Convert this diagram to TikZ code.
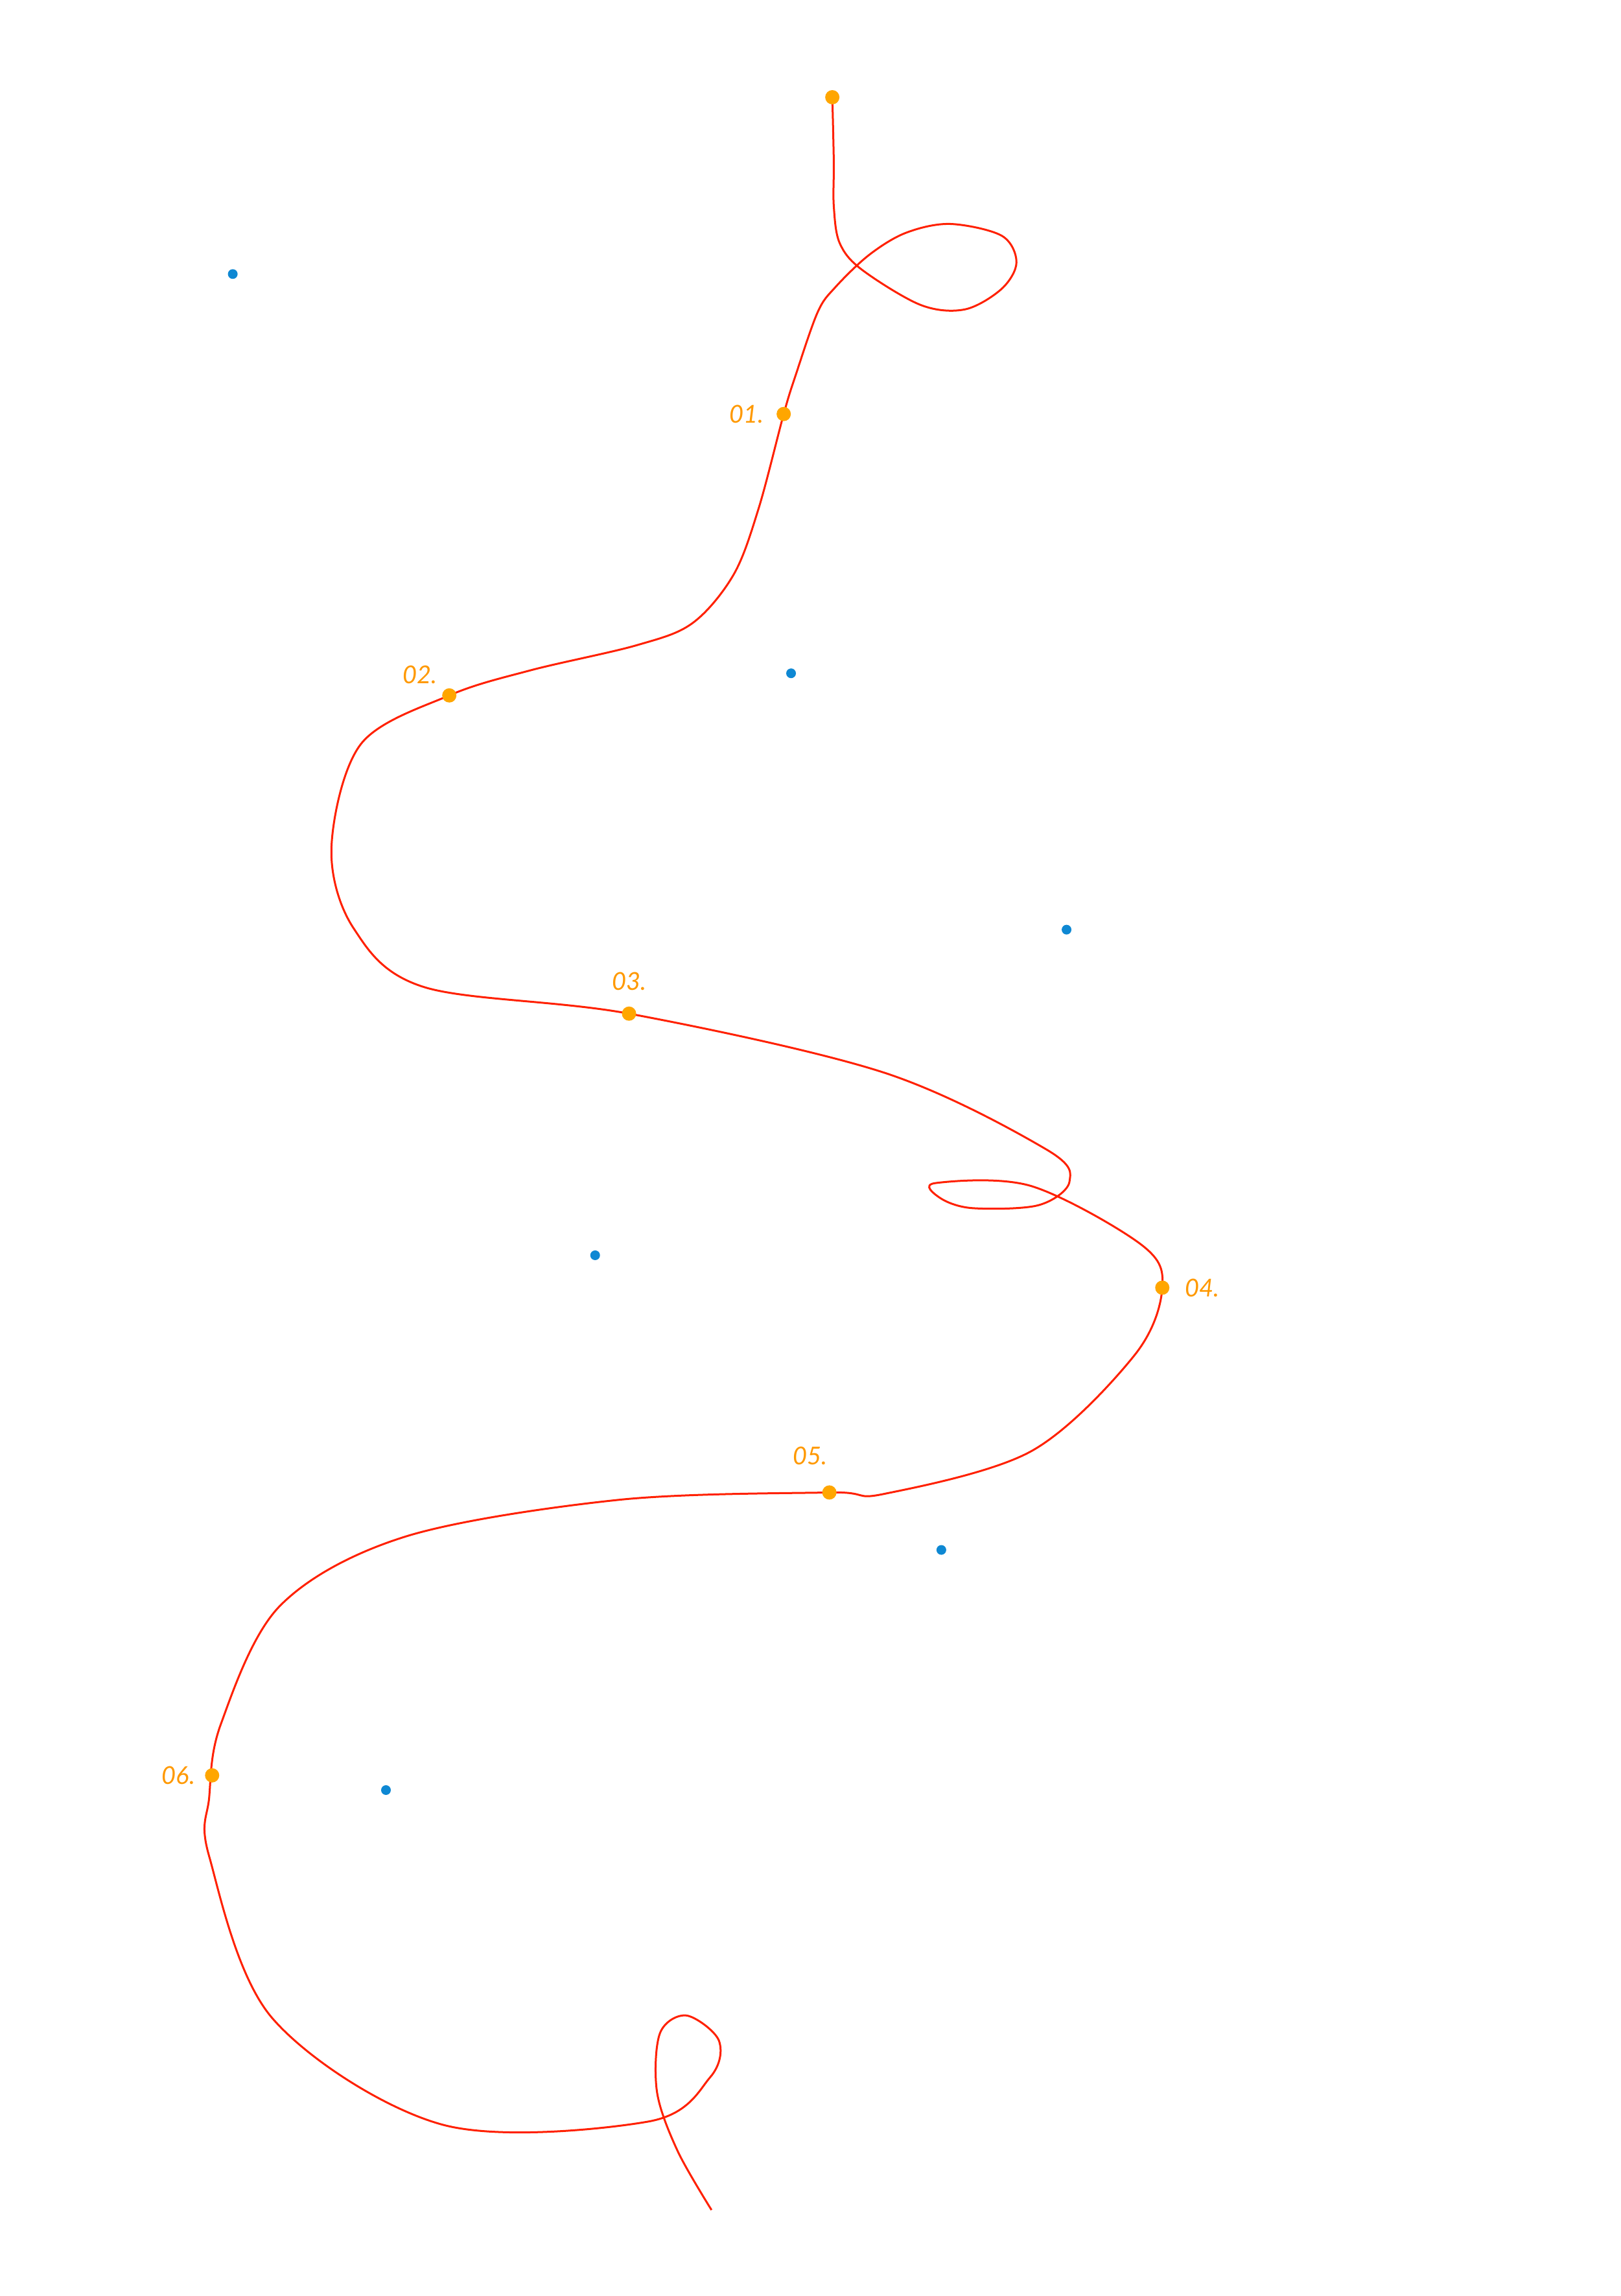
\documentclass[tikz,border=0pt]{standalone}
\usepackage{fontspec}
\setmainfont{Lato}
\begin{document}
\begin{tikzpicture}[x=2.2727pt,y=-2.2727pt,
  od/.style={circle,fill=orange!70!yellow,inner sep=0pt,minimum size=22pt},
  bd/.style={circle,fill=cyan!70!blue,inner sep=0pt,minimum size=15pt},
  lb/.style={text=orange!80!yellow,font=\fontsize{38}{40}\selectfont\itshape},
  rl/.style={draw=red!75!orange,line width=3pt,line join=round}]
\fill[white] (0,0) rectangle (1100,1558.4);
\useasboundingbox (0,0) rectangle (1100,1558.4);
\draw[rl] plot[smooth,tension=0.55] coordinates{(565,66) (566,110) (566,140) (570,165) (585,183) (625,207) (655,210) (680,196) (690,178) (680,160) (645,152) (615,158) (590,173) (567,195) (555,212) (540,255) (532,281) (515,345) (498,390) (470,423) (432,438) (360,455) (305,472) (245,505) (225,575) (240,630) (288,670) (427,688) (600,728) (710,780) (726,802) (705,818) (660,820) (638,813) (635,803) (700,805) (775,845) (789,874) (770,920) (700,985) (600,1014) (563,1013) (420,1018) (275,1043) (190,1090) (150,1170) (142,1220) (142,1260) (185,1370) (300,1442) (440,1440) (482,1410) (488,1385) (466,1368) (448,1380) (446,1420) (460,1460) (483,1500)};
\node[od] (s) at (565,66) {};
\node[od] (p1) at (532,281) {}; \node[lb,anchor=east] at (520,281) {01.};
\node[od] (p2) at (305,472) {}; \node[lb] at (285,458) {02.};
\node[od] (p3) at (427,688) {}; \node[lb] at (427,666) {03.};
\node[od] (p4) at (789,874) {}; \node[lb,anchor=west] at (803,874) {04.};
\node[od] (p5) at (563,1013) {}; \node[lb] at (550,988) {05.};
\node[od] (p6) at (144,1205) {}; \node[lb,anchor=east] at (134,1205) {06.};
\node[bd] (b1) at (158,186) {};
\node[bd] (b2) at (537,457) {};
\node[bd] (b3) at (724,631) {};
\node[bd] (b4) at (404,852) {};
\node[bd] (b5) at (639,1052) {};
\node[bd] (b6) at (262,1215) {};
\end{tikzpicture}
\end{document}
